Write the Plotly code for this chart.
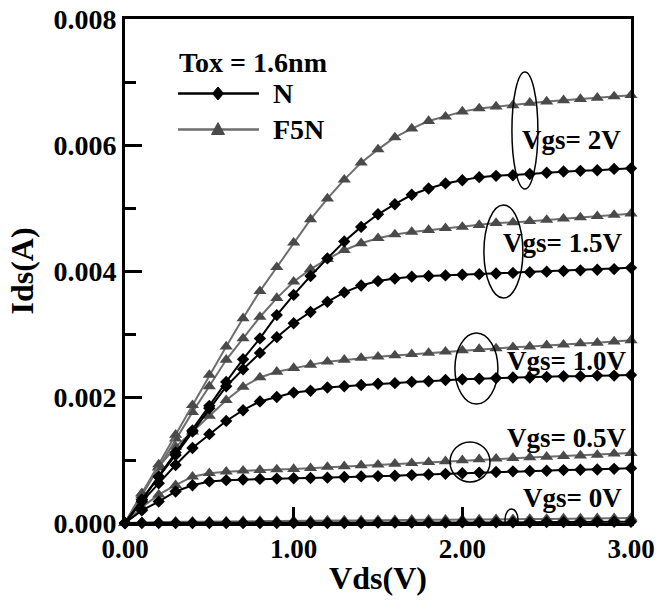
import plotly.graph_objects as go

# Drain voltage (V)
vds = [round(0.1 * i, 1) for i in range(31)]

# Drain current (mA), N device (Tox = 1.6nm)
n_vgs0 = [0.00, 0.00, 0.00, 0.00, 0.00, 0.00, 0.00, 0.00, 0.00, 0.00, 0.00,
          0.00, 0.00, 0.00, 0.00, 0.005, 0.005, 0.005, 0.005, 0.005, 0.01,
          0.01, 0.01, 0.01, 0.01, 0.015, 0.015, 0.015, 0.02, 0.02, 0.02]
n_vgs05 = [0.00, 0.20, 0.34, 0.50, 0.60, 0.66, 0.68, 0.69, 0.70, 0.705, 0.71,
           0.715, 0.72, 0.73, 0.74, 0.745, 0.75, 0.76, 0.77, 0.78, 0.79,
           0.80, 0.81, 0.82, 0.825, 0.83, 0.84, 0.845, 0.85, 0.86, 0.87]
n_vgs10 = [0.00, 0.34, 0.63, 0.92, 1.19, 1.41, 1.62, 1.79, 1.93, 2.00, 2.07,
           2.10, 2.15, 2.17, 2.19, 2.21, 2.22, 2.24, 2.25, 2.27, 2.28,
           2.29, 2.30, 2.31, 2.31, 2.32, 2.33, 2.33, 2.34, 2.34, 2.35]
n_vgs15 = [0.00, 0.37, 0.73, 1.08, 1.45, 1.82, 2.17, 2.44, 2.70, 2.95, 3.17,
           3.35, 3.51, 3.66, 3.77, 3.84, 3.88, 3.91, 3.92, 3.93, 3.94,
           3.95, 3.96, 3.97, 3.98, 3.99, 4.00, 4.01, 4.02, 4.03, 4.05]
n_vgs20 = [0.00, 0.37, 0.74, 1.12, 1.47, 1.86, 2.24, 2.60, 2.93, 3.30, 3.62,
           3.92, 4.20, 4.47, 4.70, 4.90, 5.06, 5.21, 5.31, 5.39, 5.44,
           5.49, 5.51, 5.52, 5.54, 5.56, 5.58, 5.59, 5.60, 5.62, 5.63]

# Drain current (mA), F5N device
f_vgs0 = [0.00, 0.01, 0.015, 0.02, 0.02, 0.025, 0.025, 0.03, 0.03, 0.03, 0.035,
          0.035, 0.04, 0.04, 0.04, 0.045, 0.045, 0.05, 0.05, 0.05, 0.055,
          0.055, 0.06, 0.06, 0.065, 0.065, 0.07, 0.07, 0.075, 0.075, 0.08]
f_vgs05 = [0.00, 0.25, 0.45, 0.60, 0.735, 0.79, 0.815, 0.83, 0.84, 0.85, 0.857,
           0.87, 0.89, 0.90, 0.915, 0.925, 0.94, 0.95, 0.965, 0.98, 0.995,
           1.01, 1.02, 1.03, 1.04, 1.05, 1.06, 1.07, 1.08, 1.10, 1.11]
f_vgs10 = [0.00, 0.47, 0.89, 1.21, 1.45, 1.70, 1.95, 2.16, 2.31, 2.40, 2.46,
           2.51, 2.56, 2.59, 2.62, 2.64, 2.66, 2.68, 2.70, 2.72, 2.74,
           2.76, 2.77, 2.79, 2.80, 2.82, 2.83, 2.85, 2.86, 2.88, 2.90]
f_vgs15 = [0.00, 0.44, 0.88, 1.34, 1.76, 2.17, 2.59, 2.93, 3.27, 3.57, 3.83,
           4.03, 4.19, 4.33, 4.44, 4.52, 4.58, 4.62, 4.65, 4.68, 4.70,
           4.73, 4.76, 4.77, 4.79, 4.81, 4.83, 4.85, 4.87, 4.89, 4.91]
f_vgs20 = [0.00, 0.47, 0.93, 1.40, 1.87, 2.35, 2.80, 3.25, 3.68, 4.06, 4.45,
           4.82, 5.15, 5.45, 5.72, 5.93, 6.12, 6.26, 6.38, 6.45, 6.53,
           6.58, 6.61, 6.63, 6.67, 6.69, 6.71, 6.73, 6.75, 6.77, 6.79]

n_series = [n_vgs0, n_vgs05, n_vgs10, n_vgs15, n_vgs20]
f_series = [f_vgs0, f_vgs05, f_vgs10, f_vgs15, f_vgs20]

# Vgs labels and their positions (x in V, y in A)
vgs_labels = ["Vgs= 2V", "Vgs= 1.5V", "Vgs= 1.0V", "Vgs= 0.5V", "Vgs= 0V"]
label_x = [2.95, 2.96, 2.98, 2.98, 2.96]
label_y = [0.00608, 0.00444, 0.00257, 0.00135, 0.00040]

# Ellipses marking each Vgs pair: x0, x1 (V), y0, y1 (A)
ell_x0 = [2.294, 2.128, 1.956, 1.927, 2.253]
ell_x1 = [2.448, 2.359, 2.211, 2.164, 2.330]
ell_y0 = [0.005302, 0.003571, 0.001889, 0.000651, -0.000111]
ell_y1 = [0.007159, 0.005048, 0.003016, 0.001286, 0.000222]

# Legend
legend_title = "Tox = 1.6nm"
legend_names = ["N", "F5N"]

FONT = "Liberation Serif"
N_COLOR = "#000000"
F_LINE = "#6e6e6e"
F_MARK = "#4a4a4a"

W, H = 656, 606
ML, MR, MT, MB = 125, 25, 19, 83
PW, PH = W - ML - MR, H - MT - MB


def px_to_paper(px, py):
    return (px - ML) / PW, (H - MB - py) / PH


fig = go.Figure()

for i, s in enumerate(f_series):
    fig.add_trace(go.Scatter(
        x=vds, y=[v / 1000 for v in s], mode="lines+markers",
        name="F5N", legendgroup="F5N", showlegend=False,
        line=dict(color=F_LINE, width=2),
        marker=dict(symbol="triangle-up", size=11.5, color=F_MARK),
        cliponaxis=False,
    ))

for i, s in enumerate(n_series):
    fig.add_trace(go.Scatter(
        x=vds, y=[v / 1000 for v in s], mode="lines+markers",
        name="N", legendgroup="N", showlegend=False,
        line=dict(color=N_COLOR, width=2),
        marker=dict(symbol="diamond", size=9.5, color=N_COLOR),
        cliponaxis=False,
    ))

for x0, x1, y0, y1 in zip(ell_x0, ell_x1, ell_y0, ell_y1):
    fig.add_shape(type="circle", xref="x", yref="y", x0=x0, x1=x1, y0=y0, y1=y1,
                  line=dict(color="black", width=1.5))

for txt, x, y in zip(vgs_labels, label_x, label_y):
    fig.add_annotation(x=x, y=y, xref="x", yref="y", text=txt, showarrow=False,
                       xanchor="right", yanchor="middle",
                       font=dict(family=FONT, size=27, color="black", weight="bold"))

# ---- hand-drawn legend box (sample line + marker + label) ----
tx, ty = px_to_paper(177, 62)
fig.add_annotation(x=tx, y=ty, xref="paper", yref="paper", text=legend_title,
                   showarrow=False, xanchor="left", yanchor="middle",
                   font=dict(family=FONT, size=28, color="black", weight="bold"))
legend_rows = [(93.5, N_COLOR, N_COLOR, "diamond"), (129.5, F_LINE, F_MARK, "triangle")]
for name, (ry, lcol, mcol, sym) in zip(legend_names, legend_rows):
    xa, ya = px_to_paper(178, ry)
    xb, _ = px_to_paper(259, ry)
    fig.add_shape(type="line", xref="paper", yref="paper", x0=xa, x1=xb, y0=ya, y1=ya,
                  line=dict(color=lcol, width=2.5))
    cx, cy = px_to_paper(218, ry)
    if sym == "diamond":
        pts = [(0, -6.5), (5.5, 0), (0, 6.5), (-5.5, 0)]
    else:
        pts = [(-6.5, 5), (0, -7), (6.5, 5)]
    path = "M" + " L".join(
        f"{cx + dx / PW:.5f},{cy - dy / PH:.5f}" for dx, dy in pts) + " Z"
    fig.add_shape(type="path", xref="paper", yref="paper", path=path,
                  fillcolor=mcol, line=dict(color=mcol, width=1))
    lx, ly = px_to_paper(271, ry)
    fig.add_annotation(x=lx, y=ly, xref="paper", yref="paper", text=name,
                       showarrow=False, xanchor="left", yanchor="middle",
                       font=dict(family=FONT, size=28, color="black", weight="bold"))

fig.update_layout(
    width=W, height=H,
    margin=dict(l=ML, r=MR, t=MT, b=MB),
    paper_bgcolor="white", plot_bgcolor="white",
    font=dict(family=FONT, color="black", weight="bold"),
    showlegend=False,
    xaxis=dict(
        range=[0, 3], tickvals=[0, 1, 2, 3], tickformat=".2f",
        ticks="inside", ticklen=16, tickwidth=2.5, tickcolor="black",
        showline=True, linewidth=3, linecolor="black", mirror=True,
        showgrid=False, zeroline=False, automargin=False, ticklabeloverflow="allow",
        tickfont=dict(family=FONT, size=27, weight="bold"),
        title=dict(text="Vds(V)", font=dict(family=FONT, size=32, weight="bold"), standoff=4),
    ),
    yaxis=dict(
        range=[0, 0.008], tickvals=[0, 0.002, 0.004, 0.006, 0.008], tickformat=".3f",
        ticks="inside", ticklen=17, tickwidth=2.5, tickcolor="black",
        minor=dict(dtick=0.001, ticks="inside", ticklen=11, tickwidth=2.5, tickcolor="black"),
        showline=True, linewidth=3, linecolor="black", mirror=True,
        showgrid=False, zeroline=False, automargin=False, ticklabeloverflow="allow",
        tickfont=dict(family=FONT, size=28, weight="bold"),
        title=dict(text="Ids(A)", font=dict(family=FONT, size=32, weight="bold"), standoff=11),
    ),
)

# Remove the browser's default 8px body margin so the figure fills the window.
fig.write_html("out.html", config={"displayModeBar": False},
               post_script="document.body.style.margin='0px';")
